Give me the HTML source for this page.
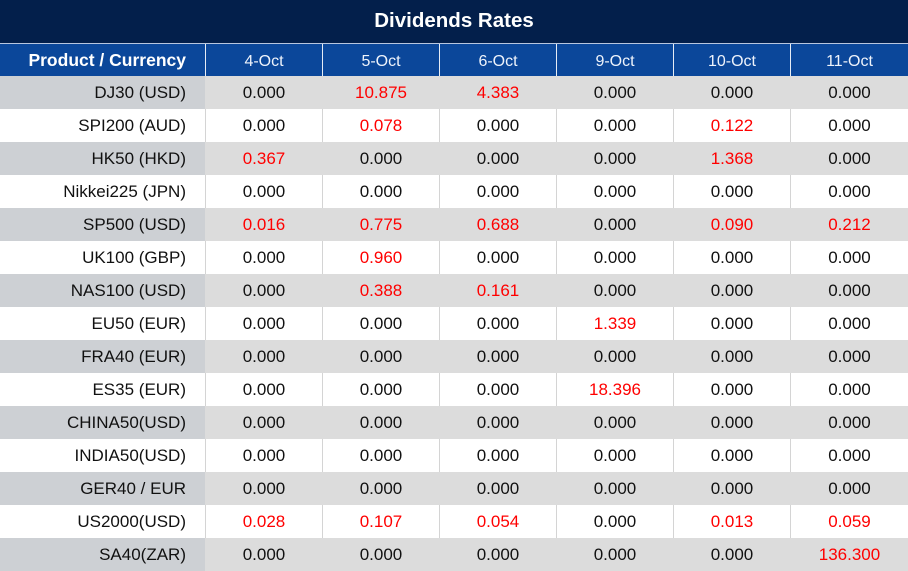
<!DOCTYPE html>
<html>
<head>
<meta charset="utf-8">
<style>
*{margin:0;padding:0;box-sizing:border-box;}
html,body{width:908px;height:571px;overflow:hidden;background:#fff;}
body{font-family:"Liberation Sans",Arial,sans-serif;position:relative;}
.title{position:absolute;left:0;top:0;width:908px;height:43px;background:#031f4b;color:#fff;font-weight:bold;font-size:20.5px;text-align:center;line-height:42px;}
.hline{position:absolute;left:0;top:43px;width:908px;height:1px;background:#b9c7df;}
.row{position:absolute;left:0;width:908px;height:33px;}
.cell{position:absolute;top:0;height:33px;line-height:33px;text-align:center;font-size:17px;color:#111;}
.hdr{top:44px;height:32px;background:#0b479a;}
.hdr .cell{height:32px;line-height:35px;color:#eef3fb;font-size:16px;}
.hdr .c0{color:#fff;font-weight:bold;font-size:17.5px;line-height:32px;}
.c0{text-align:right;padding-right:19px;}
.g{background:#dcdcdc;}
.g .c0{background:#cdd0d4;}
.w{background:#fff;}
.r{color:#ff0000;}
.vl{position:absolute;top:0;width:1px;height:33px;}
.w .vl{background:#d4d4d4;}
.g .vl{background:transparent;}
.hdr .vl{background:#e6ecf5;height:32px;}
</style>
</head>
<body>
<div class="title">Dividends Rates</div>
<div class="hline"></div>

<div class="row hdr">
<div class="cell c0" style="left:0;width:205px;">Product / Currency</div>
<div class="cell" style="left:206px;width:116px;">4-Oct</div>
<div class="cell" style="left:323px;width:116px;">5-Oct</div>
<div class="cell" style="left:440px;width:116px;">6-Oct</div>
<div class="cell" style="left:557px;width:116px;">9-Oct</div>
<div class="cell" style="left:674px;width:116px;">10-Oct</div>
<div class="cell" style="left:791px;width:117px;">11-Oct</div>
<div class="vl" style="left:205px"></div><div class="vl" style="left:322px"></div><div class="vl" style="left:439px"></div><div class="vl" style="left:556px"></div><div class="vl" style="left:673px"></div><div class="vl" style="left:790px"></div>
</div>

<div class="row g" style="top:76px">
<div class="cell c0" style="left:0;width:205px;">DJ30 (USD)</div>
<div class="cell" style="left:206px;width:116px;">0.000</div>
<div class="cell r" style="left:323px;width:116px;">10.875</div>
<div class="cell r" style="left:440px;width:116px;">4.383</div>
<div class="cell" style="left:557px;width:116px;">0.000</div>
<div class="cell" style="left:674px;width:116px;">0.000</div>
<div class="cell" style="left:791px;width:117px;">0.000</div>
</div>

<div class="row w" style="top:109px">
<div class="cell c0" style="left:0;width:205px;">SPI200 (AUD)</div>
<div class="cell" style="left:206px;width:116px;">0.000</div>
<div class="cell r" style="left:323px;width:116px;">0.078</div>
<div class="cell" style="left:440px;width:116px;">0.000</div>
<div class="cell" style="left:557px;width:116px;">0.000</div>
<div class="cell r" style="left:674px;width:116px;">0.122</div>
<div class="cell" style="left:791px;width:117px;">0.000</div>
<div class="vl" style="left:205px"></div><div class="vl" style="left:322px"></div><div class="vl" style="left:439px"></div><div class="vl" style="left:556px"></div><div class="vl" style="left:673px"></div><div class="vl" style="left:790px"></div>
</div>

<div class="row g" style="top:142px">
<div class="cell c0" style="left:0;width:205px;">HK50 (HKD)</div>
<div class="cell r" style="left:206px;width:116px;">0.367</div>
<div class="cell" style="left:323px;width:116px;">0.000</div>
<div class="cell" style="left:440px;width:116px;">0.000</div>
<div class="cell" style="left:557px;width:116px;">0.000</div>
<div class="cell r" style="left:674px;width:116px;">1.368</div>
<div class="cell" style="left:791px;width:117px;">0.000</div>
</div>

<div class="row w" style="top:175px">
<div class="cell c0" style="left:0;width:205px;">Nikkei225 (JPN)</div>
<div class="cell" style="left:206px;width:116px;">0.000</div>
<div class="cell" style="left:323px;width:116px;">0.000</div>
<div class="cell" style="left:440px;width:116px;">0.000</div>
<div class="cell" style="left:557px;width:116px;">0.000</div>
<div class="cell" style="left:674px;width:116px;">0.000</div>
<div class="cell" style="left:791px;width:117px;">0.000</div>
<div class="vl" style="left:205px"></div><div class="vl" style="left:322px"></div><div class="vl" style="left:439px"></div><div class="vl" style="left:556px"></div><div class="vl" style="left:673px"></div><div class="vl" style="left:790px"></div>
</div>

<div class="row g" style="top:208px">
<div class="cell c0" style="left:0;width:205px;">SP500 (USD)</div>
<div class="cell r" style="left:206px;width:116px;">0.016</div>
<div class="cell r" style="left:323px;width:116px;">0.775</div>
<div class="cell r" style="left:440px;width:116px;">0.688</div>
<div class="cell" style="left:557px;width:116px;">0.000</div>
<div class="cell r" style="left:674px;width:116px;">0.090</div>
<div class="cell r" style="left:791px;width:117px;">0.212</div>
</div>

<div class="row w" style="top:241px">
<div class="cell c0" style="left:0;width:205px;">UK100 (GBP)</div>
<div class="cell" style="left:206px;width:116px;">0.000</div>
<div class="cell r" style="left:323px;width:116px;">0.960</div>
<div class="cell" style="left:440px;width:116px;">0.000</div>
<div class="cell" style="left:557px;width:116px;">0.000</div>
<div class="cell" style="left:674px;width:116px;">0.000</div>
<div class="cell" style="left:791px;width:117px;">0.000</div>
<div class="vl" style="left:205px"></div><div class="vl" style="left:322px"></div><div class="vl" style="left:439px"></div><div class="vl" style="left:556px"></div><div class="vl" style="left:673px"></div><div class="vl" style="left:790px"></div>
</div>

<div class="row g" style="top:274px">
<div class="cell c0" style="left:0;width:205px;">NAS100 (USD)</div>
<div class="cell" style="left:206px;width:116px;">0.000</div>
<div class="cell r" style="left:323px;width:116px;">0.388</div>
<div class="cell r" style="left:440px;width:116px;">0.161</div>
<div class="cell" style="left:557px;width:116px;">0.000</div>
<div class="cell" style="left:674px;width:116px;">0.000</div>
<div class="cell" style="left:791px;width:117px;">0.000</div>
</div>

<div class="row w" style="top:307px">
<div class="cell c0" style="left:0;width:205px;">EU50 (EUR)</div>
<div class="cell" style="left:206px;width:116px;">0.000</div>
<div class="cell" style="left:323px;width:116px;">0.000</div>
<div class="cell" style="left:440px;width:116px;">0.000</div>
<div class="cell r" style="left:557px;width:116px;">1.339</div>
<div class="cell" style="left:674px;width:116px;">0.000</div>
<div class="cell" style="left:791px;width:117px;">0.000</div>
<div class="vl" style="left:205px"></div><div class="vl" style="left:322px"></div><div class="vl" style="left:439px"></div><div class="vl" style="left:556px"></div><div class="vl" style="left:673px"></div><div class="vl" style="left:790px"></div>
</div>

<div class="row g" style="top:340px">
<div class="cell c0" style="left:0;width:205px;">FRA40 (EUR)</div>
<div class="cell" style="left:206px;width:116px;">0.000</div>
<div class="cell" style="left:323px;width:116px;">0.000</div>
<div class="cell" style="left:440px;width:116px;">0.000</div>
<div class="cell" style="left:557px;width:116px;">0.000</div>
<div class="cell" style="left:674px;width:116px;">0.000</div>
<div class="cell" style="left:791px;width:117px;">0.000</div>
</div>

<div class="row w" style="top:373px">
<div class="cell c0" style="left:0;width:205px;">ES35 (EUR)</div>
<div class="cell" style="left:206px;width:116px;">0.000</div>
<div class="cell" style="left:323px;width:116px;">0.000</div>
<div class="cell" style="left:440px;width:116px;">0.000</div>
<div class="cell r" style="left:557px;width:116px;">18.396</div>
<div class="cell" style="left:674px;width:116px;">0.000</div>
<div class="cell" style="left:791px;width:117px;">0.000</div>
<div class="vl" style="left:205px"></div><div class="vl" style="left:322px"></div><div class="vl" style="left:439px"></div><div class="vl" style="left:556px"></div><div class="vl" style="left:673px"></div><div class="vl" style="left:790px"></div>
</div>

<div class="row g" style="top:406px">
<div class="cell c0" style="left:0;width:205px;">CHINA50(USD)</div>
<div class="cell" style="left:206px;width:116px;">0.000</div>
<div class="cell" style="left:323px;width:116px;">0.000</div>
<div class="cell" style="left:440px;width:116px;">0.000</div>
<div class="cell" style="left:557px;width:116px;">0.000</div>
<div class="cell" style="left:674px;width:116px;">0.000</div>
<div class="cell" style="left:791px;width:117px;">0.000</div>
</div>

<div class="row w" style="top:439px">
<div class="cell c0" style="left:0;width:205px;">INDIA50(USD)</div>
<div class="cell" style="left:206px;width:116px;">0.000</div>
<div class="cell" style="left:323px;width:116px;">0.000</div>
<div class="cell" style="left:440px;width:116px;">0.000</div>
<div class="cell" style="left:557px;width:116px;">0.000</div>
<div class="cell" style="left:674px;width:116px;">0.000</div>
<div class="cell" style="left:791px;width:117px;">0.000</div>
<div class="vl" style="left:205px"></div><div class="vl" style="left:322px"></div><div class="vl" style="left:439px"></div><div class="vl" style="left:556px"></div><div class="vl" style="left:673px"></div><div class="vl" style="left:790px"></div>
</div>

<div class="row g" style="top:472px">
<div class="cell c0" style="left:0;width:205px;">GER40 / EUR</div>
<div class="cell" style="left:206px;width:116px;">0.000</div>
<div class="cell" style="left:323px;width:116px;">0.000</div>
<div class="cell" style="left:440px;width:116px;">0.000</div>
<div class="cell" style="left:557px;width:116px;">0.000</div>
<div class="cell" style="left:674px;width:116px;">0.000</div>
<div class="cell" style="left:791px;width:117px;">0.000</div>
</div>

<div class="row w" style="top:505px">
<div class="cell c0" style="left:0;width:205px;">US2000(USD)</div>
<div class="cell r" style="left:206px;width:116px;">0.028</div>
<div class="cell r" style="left:323px;width:116px;">0.107</div>
<div class="cell r" style="left:440px;width:116px;">0.054</div>
<div class="cell" style="left:557px;width:116px;">0.000</div>
<div class="cell r" style="left:674px;width:116px;">0.013</div>
<div class="cell r" style="left:791px;width:117px;">0.059</div>
<div class="vl" style="left:205px"></div><div class="vl" style="left:322px"></div><div class="vl" style="left:439px"></div><div class="vl" style="left:556px"></div><div class="vl" style="left:673px"></div><div class="vl" style="left:790px"></div>
</div>

<div class="row g" style="top:538px">
<div class="cell c0" style="left:0;width:205px;">SA40(ZAR)</div>
<div class="cell" style="left:206px;width:116px;">0.000</div>
<div class="cell" style="left:323px;width:116px;">0.000</div>
<div class="cell" style="left:440px;width:116px;">0.000</div>
<div class="cell" style="left:557px;width:116px;">0.000</div>
<div class="cell" style="left:674px;width:116px;">0.000</div>
<div class="cell r" style="left:791px;width:117px;">136.300</div>
</div>
</body>
</html>
